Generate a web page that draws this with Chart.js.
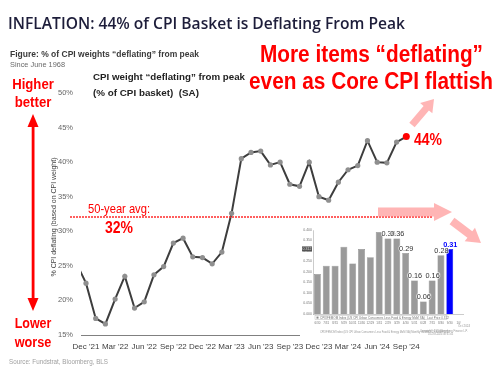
<!DOCTYPE html>
<html>
<head>
<meta charset="utf-8">
<script src="https://cdn.jsdelivr.net/npm/chart.js@4.4.1/dist/chart.umd.min.js"></script>
<style>
  html, body { margin: 0; padding: 0; background: #fff; }
  #wrap { position: relative; width: 501px; height: 374px; overflow: hidden; }
  #main { position: absolute; left: 0; top: 0; }
  #inset { position: absolute; left: 300px; top: 226px; }
</style>
</head>
<body>
<div id="wrap">
  <canvas id="main" width="501" height="374"></canvas>
  <canvas id="inset" width="170" height="110"></canvas>
</div>
<script>
// % of CPI weight "deflating" from peak, monthly (Nov '21 falls just off the left edge)
var months = ["Nov '21", "Dec '21", "Jan '22", "Feb '22", "Mar '22", "Apr '22", "May '22", "Jun '22",
  "Jul '22", "Aug '22", "Sep '22", "Oct '22", "Nov '22", "Dec '22", "Jan '23", "Feb '23", "Mar '23",
  "Apr '23", "May '23", "Jun '23", "Jul '23", "Aug '23", "Sep '23", "Oct '23", "Nov '23", "Dec '23",
  "Jan '24", "Feb '24", "Mar '24", "Apr '24", "May '24", "Jun '24", "Jul '24", "Aug '24", "Sep '24"];
var deflatingShare = [25.4, 22.5, 17.4, 16.6, 20.2, 23.5, 18.9, 19.8, 23.7, 24.9, 28.3, 29.0, 26.3,
  26.2, 25.3, 27.0, 32.6, 40.5, 41.4, 41.6, 39.6, 40.0, 36.8, 36.5, 40.0, 35.0, 34.5, 37.1, 38.9,
  39.5, 43.1, 40.0, 39.9, 42.9, 43.7];
var quarterTicks = ["Dec '21", "Mar '22", "Jun '22", "Sep '22", "Dec '22", "Mar '23", "Jun '23",
  "Sep '23", "Dec '23", "Mar '24", "Jun '24", "Sep '24"];
var fiftyYearAvg = 32;

// inset: core CPI m/m (Bloomberg screenshot)
var insetMonths = ["6/30", "7/31", "8/31", "9/29", "10/31", "11/30", "12/29", "1/31", "2/29", "3/29",
  "4/30", "5/31", "6/28", "7/31", "8/30", "9/30", "10/"];
var coreMoM = [0.19, 0.23, 0.23, 0.32, 0.24, 0.31, 0.27, 0.39, 0.36, 0.36, 0.29, 0.16, 0.06, 0.16, 0.28, 0.31];
var labelFrom = 8; // bars that carry a value label

var tickVals = quarterTicks.map(function (l) { return months.indexOf(l); });
var last = deflatingShare.length - 1;

function fitText(ctx, txt, x, y, w, font, color) {
  ctx.save();
  ctx.font = font;
  ctx.fillStyle = color;
  ctx.textAlign = 'left';
  ctx.textBaseline = 'alphabetic';
  var m = ctx.measureText(txt).width;
  ctx.translate(x, y);
  ctx.scale(w / m, 1);
  ctx.fillText(txt, 0, 0);
  ctx.restore();
}

function blockArrow(ctx, x1, y1, x2, y2, shaft, headW, headL) {
  var a = Math.atan2(y2 - y1, x2 - x1);
  var len = Math.hypot(x2 - x1, y2 - y1);
  ctx.save();
  ctx.translate(x1, y1);
  ctx.rotate(a);
  ctx.beginPath();
  ctx.moveTo(0, -shaft / 2);
  ctx.lineTo(len - headL, -shaft / 2);
  ctx.lineTo(len - headL, -headW / 2);
  ctx.lineTo(len, 0);
  ctx.lineTo(len - headL, headW / 2);
  ctx.lineTo(len - headL, shaft / 2);
  ctx.lineTo(0, shaft / 2);
  ctx.closePath();
  ctx.fill();
  ctx.restore();
}

var decor = {
  id: 'decor',
  beforeDraw: function (chart) {
    var ctx = chart.ctx;
    ctx.save();
    ctx.fillStyle = '#fff';
    ctx.fillRect(0, 0, chart.width, chart.height);
    ctx.restore();
  },
  afterDatasetsDraw: function (chart) {
    var ctx = chart.ctx;
    var y = Math.round(chart.scales.y.getPixelForValue(fiftyYearAvg)) - 1;
    ctx.save();
    ctx.fillStyle = 'rgba(255, 40, 40, 0.75)';
    for (var x = 70; x < 433; x += 3) {
      ctx.fillRect(x, y, 2, 2);
    }
    ctx.restore();
  },
  afterDraw: function (chart) {
    var ctx = chart.ctx;
    var red = '#ff0000';
    var L = '"Liberation Sans", Arial, sans-serif';

    fitText(ctx, 'INFLATION: 44% of CPI Basket is Deflating From Peak', 8, 29.3, 397, '600 17px "Open Sans"', '#1d1d3a');
    fitText(ctx, 'Figure: % of CPI weights \u201cdeflating\u201d from peak', 10, 56.7, 189, 'bold 8.3px ' + L, '#3a3a3a');
    fitText(ctx, 'Since June 1968', 10, 66.7, 55, '7px ' + L, '#6a6a6a');

    fitText(ctx, 'More items \u201cdeflating\u201d', 260, 61.7, 223, 'bold 23px ' + L, red);
    fitText(ctx, 'even as Core CPI flattish', 249, 89.3, 244, 'bold 23px ' + L, red);

    fitText(ctx, 'CPI weight \u201cdeflating\u201d from peak', 93, 79.8, 152, 'bold 8.5px ' + L, '#222');
    fitText(ctx, '(% of CPI basket)  (SA)', 93, 95.5, 106, 'bold 8.5px ' + L, '#222');

    fitText(ctx, 'Higher', 33 - 20.8, 89, 41.6, 'bold 14px ' + L, red);
    fitText(ctx, 'better', 33 - 18.3, 106.7, 36.7, 'bold 14px ' + L, red);
    fitText(ctx, 'Lower', 33 - 18.3, 328.3, 36.7, 'bold 14px ' + L, red);
    fitText(ctx, 'worse', 33 - 18.3, 346.7, 36.7, 'bold 14px ' + L, red);

    // red double-headed arrow
    ctx.save();
    ctx.fillStyle = red;
    ctx.fillRect(31.7, 124, 2.8, 177);
    ctx.beginPath();
    ctx.moveTo(33, 114); ctx.lineTo(38.5, 127); ctx.lineTo(27.5, 127); ctx.closePath(); ctx.fill();
    ctx.beginPath();
    ctx.moveTo(33, 311); ctx.lineTo(38.5, 298); ctx.lineTo(27.5, 298); ctx.closePath(); ctx.fill();
    ctx.restore();

    // rotated y-axis title
    ctx.save();
    ctx.translate(56, 217);
    ctx.rotate(-Math.PI / 2);
    fitText(ctx, '% CPI deflating (based on CPI weight)', -59.5, 0, 119, '7.5px ' + L, '#444');
    ctx.restore();

    fitText(ctx, '50-year avg:', 88, 212.7, 62, '13px ' + L, red);
    fitText(ctx, fiftyYearAvg + '%', 105, 233.3, 28, 'bold 16px ' + L, red);
    fitText(ctx, Math.round(deflatingShare[last]) + '%', 414, 145, 28, 'bold 16px ' + L, red);

    fitText(ctx, 'Source: Fundstrat, Bloomberg, BLS', 9, 364, 99, '7px ' + L, '#a0a0a0');

    // pink call-out arrows
    ctx.save();
    ctx.fillStyle = 'rgba(255, 150, 150, 0.7)';
    blockArrow(ctx, 412, 125, 434, 99, 7, 16, 12);
    blockArrow(ctx, 378, 212, 452, 212, 9, 18, 18);
    blockArrow(ctx, 452, 221, 481, 243, 8, 17, 14);
    ctx.restore();
  }
};

new Chart(document.getElementById('main'), {
  type: 'line',
  data: {
    datasets: [{
      data: deflatingShare.map(function (v, i) { return { x: i, y: v }; }),
      borderColor: '#3d3d3d',
      borderWidth: 2,
      tension: 0,
      pointRadius: function (c) { return c.dataIndex === last ? 3.5 : 2.6; },
      pointBackgroundColor: function (c) { return c.dataIndex === last ? '#ff0000' : '#8f8f8f'; },
      pointBorderWidth: 0
    }]
  },
  options: {
    responsive: false,
    animation: false,
    devicePixelRatio: 1,
    layout: { padding: { left: 0, top: 93, right: 85, bottom: 19 } },
    plugins: { legend: { display: false }, tooltip: { enabled: false } },
    scales: {
      x: {
        type: 'linear',
        min: 0.485,
        max: 35,
        afterBuildTicks: function (s) { s.ticks = tickVals.map(function (v) { return { value: v }; }); },
        afterFit: function (s) { s.height = 20; },
        grid: { display: false, drawTicks: false },
        border: { color: '#808080', width: 1 },
        ticks: {
          padding: 7, color: '#404040', maxRotation: 0, autoSkip: false,
          font: { family: 'Liberation Sans', size: 8 },
          callback: function (v) { return months[v]; }
        }
      },
      y: {
        min: 15,
        max: 50,
        afterFit: function (s) { s.width = 81; },
        grid: { display: false, drawTicks: false },
        border: { display: false },
        ticks: {
          stepSize: 5, padding: 8, color: '#666',
          font: { family: 'Liberation Sans', size: 7.5 },
          callback: function (v) { return v + '%'; }
        }
      }
    }
  },
  plugins: [decor]
});

var insetDecor = {
  id: 'insetDecor',
  beforeDraw: function (chart) {
    var ctx = chart.ctx;
    ctx.save();
    ctx.fillStyle = '#fff';
    ctx.fillRect(0, 0, 150, 110);
    ctx.fillRect(22, 100, 148, 10);
    ctx.restore();
  },
  afterDraw: function (chart) {
    var ctx = chart.ctx;
    var meta = chart.getDatasetMeta(0);
    var L = '"Liberation Sans", Arial, sans-serif';
    ctx.save();
    ctx.textAlign = 'center';
    ctx.textBaseline = 'alphabetic';
    meta.data.forEach(function (bar, i) {
      if (i < labelFrom) return;
      var isLast = i === coreMoM.length - 1;
      ctx.font = (isLast ? 'bold ' : '') + '7.3px ' + L;
      ctx.lineWidth = 1.5;
      ctx.strokeStyle = 'rgba(255,255,255,0.8)';
      ctx.strokeText(coreMoM[i].toFixed(2), bar.x + 0.5, bar.y - 2);
      ctx.fillStyle = isLast ? '#0000ff' : '#333';
      ctx.fillText(coreMoM[i].toFixed(2), bar.x + 0.5, bar.y - 2);
    });
    ctx.restore();

    // last price tag on the y axis
    var yp = chart.scales.y.getPixelForValue(coreMoM[coreMoM.length - 1]);
    ctx.save();
    ctx.fillStyle = '#555';
    ctx.fillRect(2, yp - 2.5, 10, 5);
    ctx.fillStyle = '#ddd';
    ctx.font = '3.5px ' + L;
    ctx.textAlign = 'center';
    ctx.fillText('0.312', 7, yp + 1.2);

    // legend strip and footer
    ctx.strokeStyle = '#bbb';
    ctx.lineWidth = 0.5;
    ctx.strokeRect(15, 89.7, 132, 3.8);
    ctx.fillStyle = '#888';
    ctx.fillRect(16.5, 90.6, 2, 2);
    ctx.textAlign = 'left';
    ctx.fillStyle = '#777';
    ctx.font = '3px ' + L;
    ctx.fillText('CPIXFEMOM Index (US CPI Urban Consumers Less Food & Energy MoM SA)   Last Price 0.312', 20, 92.7);
    ctx.font = '2.6px ' + L;
    ctx.fillStyle = '#999';
    ctx.fillText('CPIXFEMOM Index (US CPI Urban Consumers Less Food & Energy MoM SA) Monthly 30SEP2023-30SEP2024', 20, 107);
    ctx.fillText('Copyright\u00a9 2024 Bloomberg Finance L.P.', 120, 106);
    ctx.fillText('10-Oct-2024 08:31:45', 128, 108.5);
    ctx.font = '3px ' + L;
    ctx.fillText('Oct 2024', 158, 101);
    ctx.restore();
  }
};

new Chart(document.getElementById('inset'), {
  type: 'bar',
  data: {
    labels: insetMonths,
    datasets: [{
      data: coreMoM,
      backgroundColor: function (c) { return c.dataIndex === coreMoM.length - 1 ? '#0000ff' : '#9a9a9a'; },
      borderColor: function (c) { return c.dataIndex === coreMoM.length - 1 ? '#0000cc' : '#808080'; },
      borderWidth: 0.5,
      categoryPercentage: 1,
      barPercentage: 0.78
    }]
  },
  options: {
    responsive: false,
    animation: false,
    devicePixelRatio: 1,
    layout: { padding: { left: 0, top: 4, right: 7, bottom: 0 } },
    plugins: { legend: { display: false }, tooltip: { enabled: false } },
    scales: {
      x: {
        afterFit: function (s) { s.height = 22; },
        grid: { display: false, drawTicks: false },
        border: { color: '#999', width: 0.5 },
        ticks: { padding: 7, color: '#777', maxRotation: 0, autoSkip: false, font: { size: 3 } }
      },
      y: {
        min: 0,
        max: 0.4,
        afterFit: function (s) { s.width = 13; },
        grid: { display: false, drawTicks: false },
        border: { color: '#999', width: 0.5 },
        ticks: {
          stepSize: 0.05, padding: 1, color: '#777', font: { size: 3.5 },
          callback: function (v) { return v.toFixed(3); }
        }
      }
    }
  },
  plugins: [insetDecor]
});
</script>
</body>
</html>
